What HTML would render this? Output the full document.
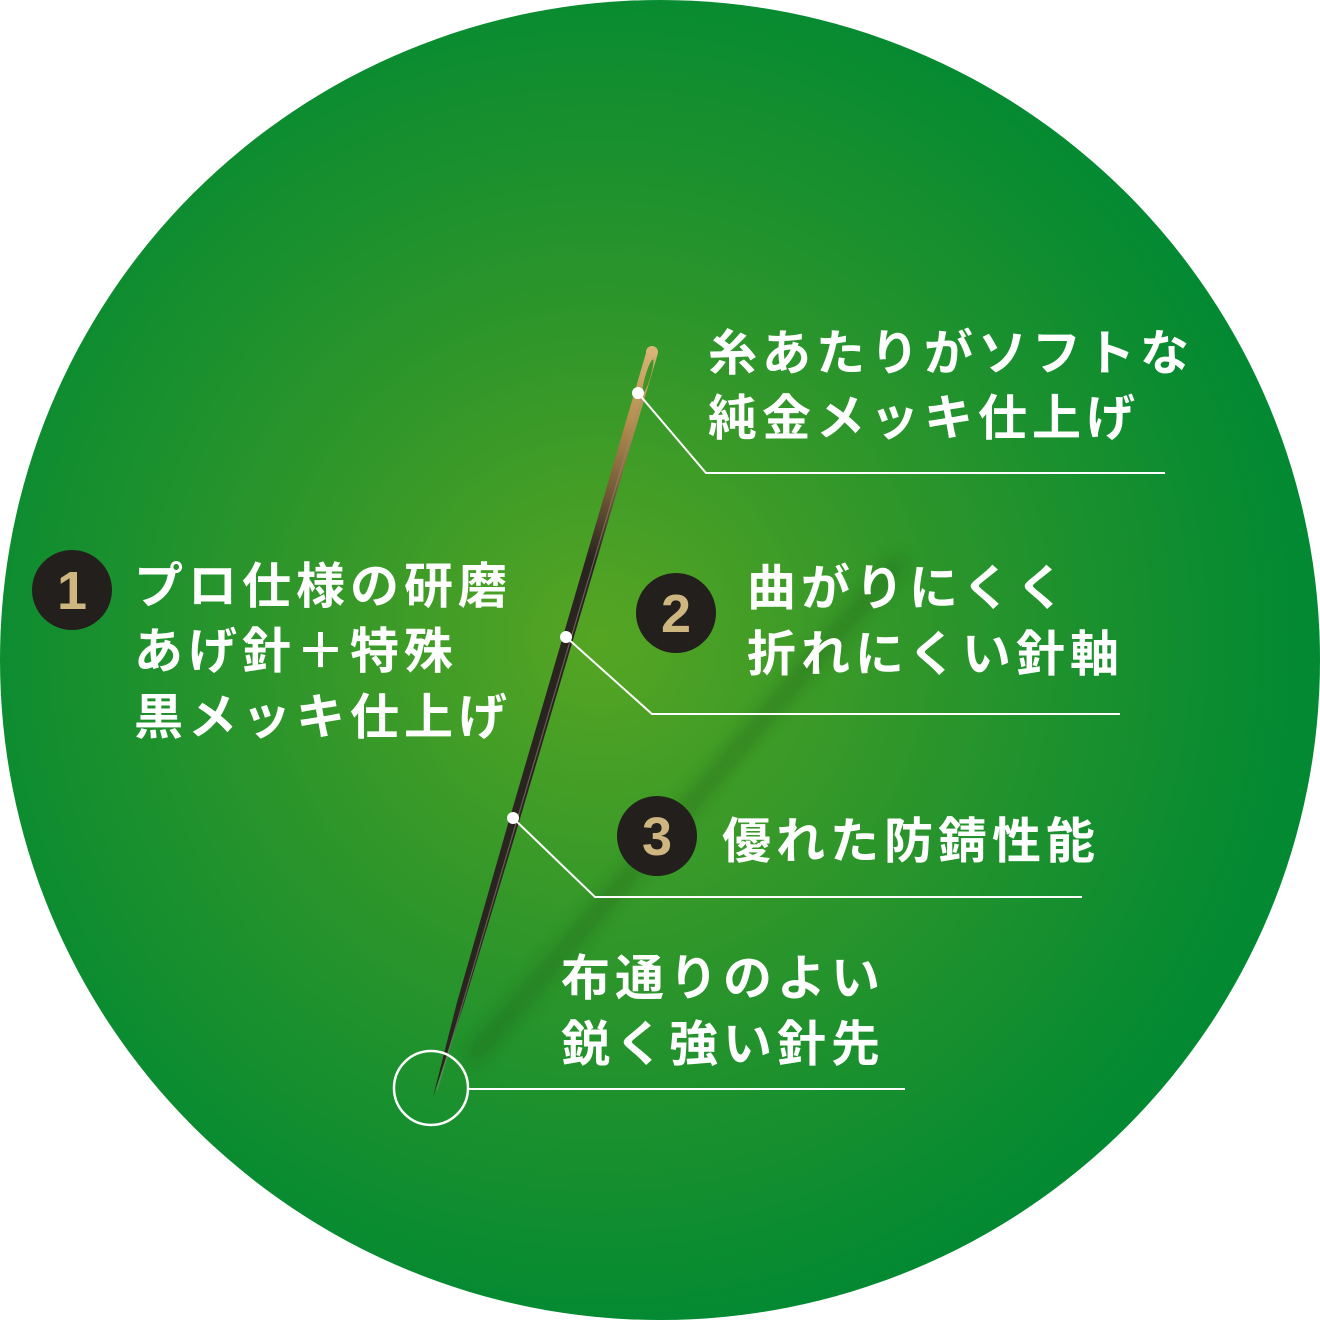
<!DOCTYPE html>
<html><head><meta charset="utf-8"><style>
html,body{margin:0;padding:0;background:#fff;}
svg{display:block;}
text{font-family:"Liberation Sans","Noto Sans CJK JP",sans-serif;font-weight:700;fill:#fff;}
</style></head><body>
<svg width="1320" height="1320" viewBox="0 0 1320 1320" xmlns="http://www.w3.org/2000/svg">
<defs>
<radialGradient id="bg" cx="600" cy="640" r="700" gradientUnits="userSpaceOnUse">
<stop offset="0" stop-color="#56a523"/>
<stop offset="0.45" stop-color="#2f962a"/>
<stop offset="1" stop-color="#028932"/>
</radialGradient>
<linearGradient id="shaft" x1="652" y1="348" x2="433" y2="1097" gradientUnits="userSpaceOnUse">
<stop offset="0" stop-color="#d9b577"/><stop offset="0.1" stop-color="#b48d4f"/><stop offset="0.2" stop-color="#6d5535"/><stop offset="0.28" stop-color="#2a2420"/><stop offset="1" stop-color="#2a2420"/>
</linearGradient>
<filter id="blur"><feGaussianBlur stdDeviation="9"/></filter>
</defs>
<circle cx="660" cy="660" r="660" fill="url(#bg)"/>
<line x1="470" y1="1060" x2="900" y2="560" stroke="#1a5a18" stroke-width="14" opacity="0.45" filter="url(#blur)"/>
<!-- needle -->
<circle cx="652" cy="352" r="6" fill="#d9b577"/>
<polygon points="646.2,352.3 657.8,353.7 515.8,832.9 463.6,1005 433,1097 456.8,1003 506.2,830.1" fill="url(#shaft)"/>
<line x1="654" y1="358" x2="437" y2="1090" stroke="#9a8a80" stroke-width="1.2" opacity="0.55"/>
<ellipse cx="648" cy="376" rx="2.6" ry="17" transform="rotate(16.4 648 376)" fill="#3f9426"/>
<g stroke="#fff" stroke-width="2" fill="none">
<polyline points="638,393 706,473 1165,473"/>
<polyline points="566,637 652,714 1120,714"/>
<polyline points="513,818 595,897 1082,897"/>
<circle cx="431" cy="1088" r="37" stroke-width="2.5"/>
<line x1="468" y1="1089" x2="905" y2="1089"/>
</g>
<g fill="#fff"><circle cx="638" cy="393" r="6"/><circle cx="566" cy="637" r="6"/><circle cx="513" cy="818" r="6"/></g>
<g font-size="54">
<circle cx="72" cy="590" r="40" fill="#231f1c"/>
<text x="72" y="609" text-anchor="middle" style="fill:#cdb67f">1</text>
<circle cx="676" cy="613" r="40" fill="#231f1c"/>
<text x="676" y="632" text-anchor="middle" style="fill:#cdb67f">2</text>
<circle cx="657" cy="836" r="40" fill="#231f1c"/>
<text x="657" y="855" text-anchor="middle" style="fill:#cdb67f">3</text>
</g>
<g font-size="49" letter-spacing="5">
<text x="708" y="370">糸あたりがソフトな</text>
<text x="708" y="435">純金メッキ仕上げ</text>
<text x="134" y="603">プロ仕様の研磨</text>
<text x="134" y="668">あげ針＋特殊</text>
<text x="134" y="734">黒メッキ仕上げ</text>
<text x="747" y="605">曲がりにくく</text>
<text x="747" y="671">折れにくい針軸</text>
<text x="722" y="858">優れた防錆性能</text>
<text x="561" y="995">布通りのよい</text>
<text x="561" y="1061">鋭く強い針先</text>
</g>
</svg>
</body></html>
